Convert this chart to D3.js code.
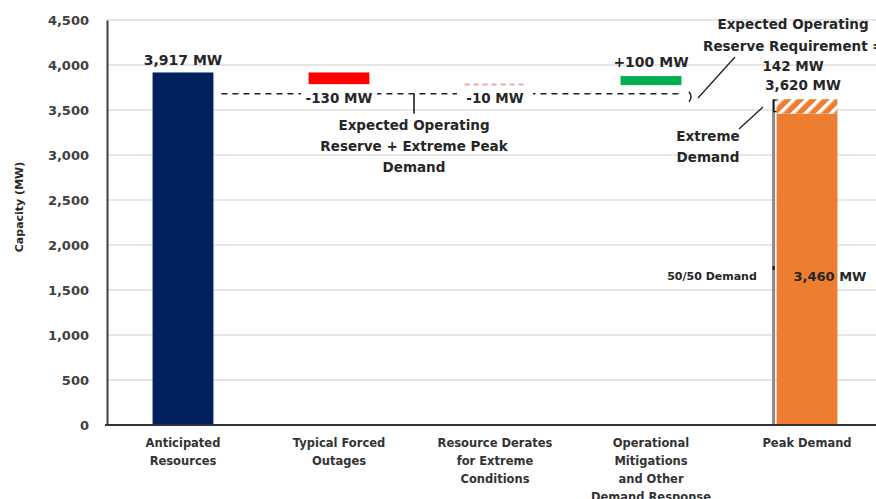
<!DOCTYPE html>
<html>
<head>
<meta charset="utf-8">
<script src="https://cdn.jsdelivr.net/npm/d3@7"></script>
<style>
  html, body { margin: 0; padding: 0; background: #fff; }
  svg text { font-family: "DejaVu Sans", sans-serif; font-weight: bold; fill: #262626; }
</style>
</head>
<body>
<svg id="chart" width="876" height="499"></svg>
<script>
// Waterfall categories and multi-line axis labels
const categories = ["Anticipated Resources", "Typical Forced Outages", "Resource Derates for Extreme Conditions", "Operational Mitigations and Other Demand Response", "Peak Demand"];
const categoryLines = [
  ["Anticipated", "Resources"],
  ["Typical Forced", "Outages"],
  ["Resource Derates", "for Extreme", "Conditions"],
  ["Operational", "Mitigations", "and Other", "Demand Response"],
  ["Peak Demand"]
];
// Resource steps (MW): starting resources, then changes
const stepValues = [3917, -130, -10, 100];
const stepColors = ["#002060", "#ff0000", "#f4a6a6", "#00b050"];
// Peak demand (MW)
const normalDemand = 3460;
const extremeDemand = 3620;
const reserveRequirement = 142;
// Level of the dashed "expected operating reserve + extreme peak demand" line
const reserveLineLevel = 3680;
const yTicks = [0, 500, 1000, 1500, 2000, 2500, 3000, 3500, 4000, 4500];

const svg = d3.select("#chart");

const x = d3.scaleBand().domain(categories).range([105, 885]).paddingInner(0.61).paddingOuter(0.305);
const y = d3.scaleLinear().domain([0, 4500]).range([425, 20]);
const fmt = d3.format(",");

// Hatch pattern for the extreme-demand slice
const defs = svg.append("defs");
const pat = defs.append("pattern").attr("id", "hatch").attr("patternUnits", "userSpaceOnUse")
  .attr("width", 9).attr("height", 9).attr("patternTransform", "rotate(45)");
pat.append("rect").attr("width", 9).attr("height", 9).attr("fill", "#ed7d31");
pat.append("rect").attr("x", 0).attr("width", 3.5).attr("height", 9).attr("fill", "#fff");

// Gridlines
svg.append("g").selectAll("line").data(yTicks.slice(1)).join("line")
  .attr("x1", 107).attr("x2", 876).attr("y1", d => y(d)).attr("y2", d => y(d))
  .attr("stroke", "#dedede").attr("stroke-width", 1.5);

// Y axis
const yAxis = svg.append("g").attr("transform", "translate(107,0)")
  .call(d3.axisLeft(y).tickValues(yTicks).tickFormat(fmt).tickSize(0).tickPadding(18));
yAxis.select(".domain").attr("stroke", "#404040").attr("stroke-width", 2);
yAxis.selectAll("text").style("font-size", "13px").style("fill", "#404040")
  .style("font-family", "DejaVu Sans").style("font-weight", "bold");

svg.append("text").attr("transform", "translate(23,207) rotate(-90)")
  .attr("text-anchor", "middle").style("font-size", "11px").text("Capacity (MW)");

// Waterfall bars
let running = 0;
const steps = stepValues.map((v, i) => {
  const start = i === 0 ? 0 : running;
  const end = start + v;
  running = end;
  return { cat: categories[i], value: v, lo: Math.min(start, end), hi: Math.max(start, end), color: stepColors[i] };
});

const bars = svg.append("g");
bars.selectAll("rect.step").data(steps.filter(d => d.value !== -10)).join("rect")
  .attr("class", "step")
  .attr("x", d => x(d.cat)).attr("width", x.bandwidth())
  .attr("y", d => y(d.hi)).attr("height", d => y(d.lo) - y(d.hi))
  .attr("fill", d => d.color);

// Tiny derate step drawn as a dashed sliver
bars.selectAll("line.derate").data(steps.filter(d => d.value === -10)).join("line")
  .attr("class", "derate")
  .attr("x1", d => x(d.cat)).attr("x2", d => x(d.cat) + x.bandwidth())
  .attr("y1", d => (y(d.lo) + y(d.hi)) / 2).attr("y2", d => (y(d.lo) + y(d.hi)) / 2)
  .attr("stroke", d => d.color).attr("stroke-width", 2).attr("stroke-dasharray", "5,4");

// Peak demand bar: 50/50 demand plus hatched extreme slice
const pd = "Peak Demand";
svg.append("rect").attr("x", x(pd)).attr("width", x.bandwidth())
  .attr("y", y(normalDemand)).attr("height", y(0) - y(normalDemand)).attr("fill", "#ed7d31");
svg.append("rect").attr("x", x(pd)).attr("width", x.bandwidth())
  .attr("y", y(extremeDemand)).attr("height", y(normalDemand) - y(extremeDemand)).attr("fill", "url(#hatch)");

// Gray bracket at the left edge of the demand bar
const bx = x(pd) - 3;
svg.append("line").attr("x1", bx).attr("x2", bx).attr("y1", y(extremeDemand)).attr("y2", y(0))
  .attr("stroke", "#8a8a8a").attr("stroke-width", 3);
svg.append("path")
  .attr("d", `M${bx + 3},${y(extremeDemand) + 1} L${bx},${y(extremeDemand) + 1} L${bx},${y(normalDemand) - 2} L${bx + 3},${y(normalDemand) - 2}`)
  .attr("fill", "none").attr("stroke", "#111").attr("stroke-width", 1.2);
svg.append("line").attr("x1", bx).attr("x2", bx).attr("y1", 266).attr("y2", 270)
  .attr("stroke", "#111").attr("stroke-width", 2);

// X axis baseline
svg.append("line").attr("x1", 105).attr("x2", 876).attr("y1", y(0)).attr("y2", y(0))
  .attr("stroke", "#333").attr("stroke-width", 2);

// Category labels
const xl = svg.append("g");
categories.forEach((c, i) => {
  const t = xl.append("text").attr("text-anchor", "middle").style("font-size", "11.5px").style("fill", "#333");
  categoryLines[i].forEach((ln, j) => {
    t.append("tspan").attr("x", x(c) + x.bandwidth() / 2).attr("y", 447 + j * 18).text(ln);
  });
});

// Dashed reserve line with step labels sitting on it
const ry = y(reserveLineLevel);
svg.append("line").attr("x1", x(categories[0]) + x.bandwidth() + 8).attr("x2", x(categories[3]) + x.bandwidth())
  .attr("y1", ry).attr("y2", ry).attr("stroke", "#222").attr("stroke-width", 1.5).attr("stroke-dasharray", "6,5");

// Signed MW label with a plain hyphen for negatives
const sign = v => (v > 0 ? "+" : v < 0 ? "-" : "") + fmt(Math.abs(v)) + " MW";
[1, 2].forEach(i => {
  const cx = x(categories[i]) + x.bandwidth() / 2;
  svg.append("rect").attr("x", cx - 38).attr("y", ry - 6).attr("width", 76).attr("height", 14).attr("fill", "#fff");
  svg.append("text").attr("x", cx).attr("y", ry + 9).attr("text-anchor", "middle")
    .style("font-size", "13.5px").text(sign(stepValues[i]));
});

// Value labels above bars
svg.append("text").attr("x", x(categories[0]) + x.bandwidth() / 2).attr("y", y(steps[0].hi) - 7)
  .attr("text-anchor", "middle").style("font-size", "14px").text(fmt(stepValues[0]) + " MW");
svg.append("text").attr("x", x(categories[3]) + x.bandwidth() / 2).attr("y", y(steps[3].hi) - 9)
  .attr("text-anchor", "middle").style("font-size", "14px").text(sign(stepValues[3]));

// Annotation for the dashed line
const ax = 414;
svg.append("line").attr("x1", ax).attr("x2", ax).attr("y1", ry).attr("y2", ry + 20).attr("stroke", "#111").attr("stroke-width", 1.5);
["Expected Operating", "Reserve + Extreme Peak", "Demand"].forEach((ln, j) => {
  svg.append("text").attr("x", ax).attr("y", 130 + j * 21).attr("text-anchor", "middle")
    .style("font-size", "13.5px").text(ln);
});

// Reserve requirement callout
svg.append("text").attr("x", 793).attr("y", 29).attr("text-anchor", "middle").style("font-size", "13.5px").text("Expected Operating");
svg.append("text").attr("x", 703).attr("y", 51).style("font-size", "13.5px").text("Reserve Requirement =");
svg.append("text").attr("x", 793).attr("y", 71).attr("text-anchor", "middle").style("font-size", "13.5px").text(fmt(reserveRequirement) + " MW");
svg.append("path").attr("d", "M735,57 L698,98").attr("stroke", "#222").attr("stroke-width", 1.3).attr("fill", "none");
svg.append("path").attr("d", `M689,${ry - 2} Q693,${ry + 3} 689,${ry + 8}`).attr("stroke", "#222").attr("stroke-width", 1.5).attr("fill", "none");

// Demand labels
svg.append("text").attr("x", x(pd) + x.bandwidth() / 2 - 4).attr("y", y(extremeDemand) - 9)
  .attr("text-anchor", "middle").style("font-size", "13.5px").text(fmt(extremeDemand) + " MW");
svg.append("path").attr("d", "M763,107 L739,129").attr("stroke", "#222").attr("stroke-width", 1.3).attr("fill", "none");
svg.append("text").attr("x", 708).attr("y", 141).attr("text-anchor", "middle").style("font-size", "13.5px").text("Extreme");
svg.append("text").attr("x", 708).attr("y", 162).attr("text-anchor", "middle").style("font-size", "13.5px").text("Demand");
svg.append("text").attr("x", 712).attr("y", 280).attr("text-anchor", "middle").style("font-size", "11px").text("50/50 Demand");
svg.append("text").attr("x", 830).attr("y", 281).attr("text-anchor", "middle").style("font-size", "13px").text(fmt(normalDemand) + " MW");
</script>
</body>
</html>
